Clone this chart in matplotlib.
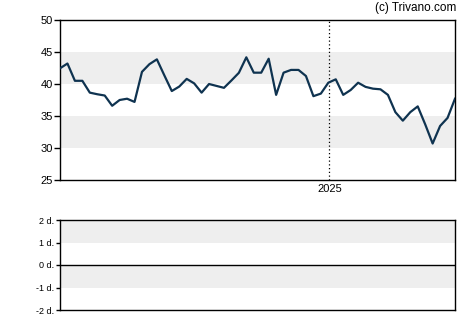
import numpy as np
import pandas as pd
import matplotlib
matplotlib.use('Agg')
import matplotlib.pyplot as plt
import matplotlib.dates as mdates

plt.rcParams['font.family'] = ['Liberation Sans', 'DejaVu Sans']

# weekly closes
start = '2024-04-23'
prices = [42.45, 43.2, 40.5, 40.5, 38.65, 38.4, 38.2, 36.6, 37.5, 37.7,
          37.2, 41.9, 43.1, 43.85, 41.35, 38.9, 39.6, 40.8, 40.1, 38.65,
          40.0, 39.7, 39.4, 40.55, 41.75, 44.17, 41.77, 41.77, 43.95, 38.3,
          41.77, 42.2, 42.2, 41.25, 38.1, 38.5, 40.2, 40.73, 38.3, 39.06,
          40.2, 39.55, 39.27, 39.17, 38.3, 35.6, 34.27, 35.6, 36.5, 33.7,
          30.7, 33.44, 34.7, 37.7]
dates = pd.date_range(start, periods=len(prices), freq='7D')

top_ticks = [25, 30, 35, 40, 45, 50]
top_bands = [(30, 35), (40, 45)]
low_ticks = [-2, -1, 0, 1, 2]
low_labels = ['-2 d.', '-1 d.', '0 d.', '1 d.', '2 d.']
low_bands = [(-1, 0), (1, 2)]
year_mark = pd.Timestamp('2025-01-01')

band_col = '#eeeeee'
line_col = '#0f3350'

fig = plt.figure(figsize=(4.7, 3.25), dpi=100)

# ── price panel ──
ax = fig.add_axes([60 / 470, 1 - 180 / 325, 395 / 470, 160 / 325])
for lo, hi in top_bands:
    ax.axhspan(lo, hi, color=band_col, lw=0, zorder=0)
ax.plot(dates, prices, color=line_col, lw=1.6, zorder=3)
ax.axvline(year_mark, color='black', lw=0.9, ls=(0, (1, 2)), zorder=2)
ax.set_xlim(dates[0], dates[-1])
ax.set_ylim(25, 50)
ax.set_yticks(top_ticks)
ax.set_xticks([year_mark])
ax.xaxis.set_major_formatter(mdates.DateFormatter('%Y'))
ax.tick_params(axis='y', length=4, width=1, labelsize=8, pad=1)
ax.tick_params(axis='x', length=0, labelsize=8, pad=3)
for s in ax.spines.values():
    s.set_linewidth(1)

fig.text(456 / 470, 1 - 8 / 325, '(c) Trivano.com', ha='right', va='center',
         fontsize=8.5)

# ── lower panel ──
ax2 = fig.add_axes([60 / 470, 1 - 310 / 325, 395 / 470, 90 / 325])
for lo, hi in low_bands:
    ax2.axhspan(lo, hi, color=band_col, lw=0, zorder=0)
ax2.axhline(0, color='black', lw=1)
ax2.set_ylim(-2, 2)
ax2.set_xlim(0, 1)
ax2.set_yticks(low_ticks)
ax2.set_yticklabels(low_labels)
ax2.set_xticks([])
ax2.tick_params(axis='y', length=3, width=1, labelsize=6.5, pad=1)
for s in ax2.spines.values():
    s.set_linewidth(1)

fig.savefig('out.png', dpi=100)
